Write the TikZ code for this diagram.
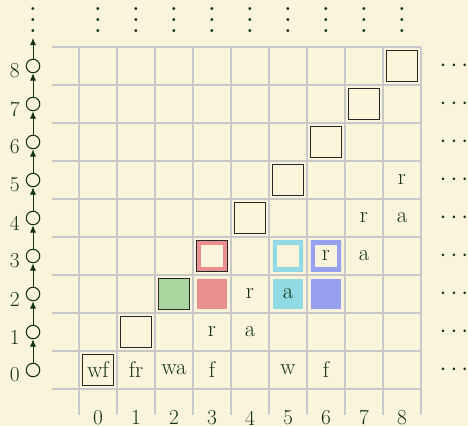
\documentclass[tikz,border=0pt]{standalone}
\usepackage{fontspec}
\usetikzlibrary{arrows.meta}
\definecolor{bgc}{RGB}{250,244,218}
\definecolor{gridc}{RGB}{200,200,200}
\definecolor{txtc}{RGB}{18,50,18}
\definecolor{pinkc}{RGB}{232,144,144}
\definecolor{greenc}{RGB}{168,214,158}
\definecolor{cyanc}{RGB}{144,218,228}
\definecolor{bluec}{RGB}{152,160,240}
\tikzset{
  cell/.style={text=txtc, font=\fontsize{17}{20}\selectfont, inner sep=0pt, minimum size=0.8cm},
  cellbox/.style={cell, draw=black!85, line width=0.9pt},
  frame/.style={path picture={\draw[#1, line width=6.4pt] (path picture bounding box.south west) rectangle (path picture bounding box.north east);}},
  gridline/.style={gridc, line width=0.9pt},
  ring/.style={circle, draw=txtc, fill=bgc, line width=0.8pt, minimum size=0.355cm, inner sep=0pt},
  arr/.style={txtc, line width=0.7pt, -{Latex[length=5.5pt,width=4.6pt]}},
  numlab/.style={text=txtc, font=\fontsize{16}{19}\selectfont, inner sep=0pt},
  vdotsn/.style={text=txtc, scale=2.05, inner sep=0pt, anchor=base},
  cdotsn/.style={text=txtc, scale=1.85, inner sep=0pt},
}
\begin{document}
\begin{tikzpicture}
\useasboundingbox[fill=bgc] (-2.579,-1.474) rectangle (9.737,9.737);
% grid
\foreach \i in {-0.5,0.5,...,8.5} {
  \draw[gridline] (\i,-1.18) -- (\i,8.5);
  \draw[gridline] (-1.21,\i) -- (8.5,\i);
}
% column labels
\foreach \i in {0,...,8} {
  \node[numlab] (x\i) at (\i,-1.26) {\i};
  \node[vdotsn] (v\i) at (\i,8.88) {$\vdots$};
}
% row rings and labels
\foreach \j in {0,...,8} {
  \node[ring] (c\j) at (-1.71,\j) {};
  \node[numlab] (y\j) at (-2.19,\j-0.13) {\j};
  \node[cdotsn] (h\j) at (9.368,\j) {$\cdots$};
}
\node[vdotsn] (vc) at (-1.71,8.88) {$\vdots$};
\coordinate (ctop) at (-1.71,8.74);
\foreach \j [evaluate=\j as \k using int(\j+1)] in {0,...,7} {
  \draw[arr] (c\j) -- (c\k);
}
\draw[arr] (c8) -- (ctop);
% row 0
\node[cellbox] (n00) at (0,0) {wf};
\node[cell] (n10) at (1,0) {fr};
\node[cell] (n20) at (2,0) {wa};
\node[cell] (n30) at (3,0) {f};
\node[cell] (n50) at (5,0) {w};
\node[cell] (n60) at (6,0) {f};
% row 1
\node[cellbox] (n11) at (1,1) {};
\node[cell] (n31) at (3,1) {r};
\node[cell] (n41) at (4,1) {a};
% row 2
\node[cellbox, fill=greenc] (n22) at (2,2) {};
\node[cell, fill=pinkc] (n32) at (3,2) {};
\node[cell] (n42) at (4,2) {r};
\node[cell, fill=cyanc] (n52) at (5,2) {a};
\node[cell, fill=bluec] (n62) at (6,2) {};
% row 3
\node[cellbox, frame=pinkc] (n33) at (3,3) {};
\node[cell, frame=cyanc] (n53) at (5,3) {};
\node[cell, frame=bluec] (n63) at (6,3) {r};
\node[cell] (n73) at (7,3) {a};
% row 4
\node[cellbox] (n44) at (4,4) {};
\node[cell] (n74) at (7,4) {r};
\node[cell] (n84) at (8,4) {a};
% row 5
\node[cellbox] (n55) at (5,5) {};
\node[cell] (n85) at (8,5) {r};
% rows 6-8
\node[cellbox] (n66) at (6,6) {};
\node[cellbox] (n77) at (7,7) {};
\node[cellbox] (n88) at (8,8) {};
\end{tikzpicture}
\end{document}
